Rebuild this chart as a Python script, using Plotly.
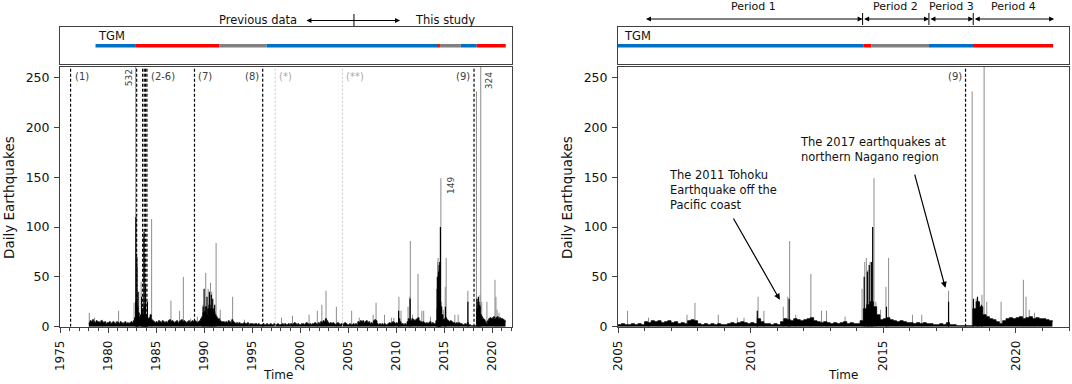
import plotly.graph_objects as go

# ---------------- data ----------------
# background daily activity (typical daily count), one value every 1.5 months from 1978.0
bg_start = 1978.0
bg_step = 0.125
bg_counts = [
    4, 6, 5, 7, 5, 4, 6, 5,        # 1978
    5, 4, 6, 5, 4, 5, 3, 4,        # 1979
    4, 5, 3, 4, 5, 4, 3, 5,        # 1980
    4, 3, 5, 4, 3, 4, 5, 3,        # 1981
    4, 3, 4, 5, 4, 6, 9, 25,       # 1982
    20, 14, 10, 12, 18, 12, 20, 12,  # 1983
    10, 8, 9, 12, 7, 6, 5, 4,      # 1984
    5, 4, 6, 5, 4, 6, 5, 4,        # 1985
    5, 4, 6, 7, 5, 6, 5, 4,        # 1986
    5, 6, 4, 5, 6, 7, 5, 6,        # 1987
    5, 4, 5, 6, 4, 5, 6, 5,        # 1988
    6, 5, 4, 5, 6, 8, 10, 14,      # 1989
    15, 20, 12, 18, 22, 18, 14, 18,  # 1990
    15, 12, 10, 8, 8, 6, 5, 5,     # 1991
    5, 4, 5, 4, 6, 5, 4, 7,        # 1992
    5, 4, 3, 4, 3, 4, 3, 3,        # 1993
    3, 4, 3, 3, 4, 2, 3, 3,        # 1994
    3, 2, 3, 3, 2, 3, 2, 2,        # 1995
    2, 3, 2, 2, 3, 2, 2, 3,        # 1996
    2, 2, 3, 2, 2, 3, 2, 2,        # 1997
    2, 3, 2, 3, 2, 2, 3, 2,        # 1998
    3, 2, 3, 4, 3, 2, 3, 2,        # 1999
    2, 3, 3, 2, 3, 4, 3, 2,        # 2000
    3, 2, 3, 3, 4, 3, 2, 4,        # 2001
    3, 5, 4, 6, 5, 8, 6, 4,        # 2002
    3, 4, 3, 4, 3, 2, 3, 4,        # 2003
    3, 2, 3, 2, 3, 4, 3, 2,        # 2004
    2, 3, 2, 2, 3, 2, 3, 2,        # 2005
    5, 4, 6, 5, 6, 4, 5, 6,        # 2006
    4, 5, 3, 4, 3, 6, 7, 6,        # 2007
    3, 2, 3, 2, 3, 2, 3, 2,        # 2008
    2, 3, 4, 3, 4, 5, 4, 3,        # 2009
    4, 3, 8, 5, 3, 3, 2, 3,        # 2010
    2, 5, 8, 7, 6, 8, 7, 6,        # 2011
    7, 8, 9, 6, 5, 4, 5, 4,        # 2012
    3, 4, 3, 4, 5, 3, 4, 3,        # 2013
    3, 6, 18, 22, 25, 20, 12, 7,   # 2014
    8, 9, 7, 6, 5, 6, 5, 4,        # 2015
    4, 3, 4, 3, 4, 3, 3, 2,        # 2016
    2, 3, 2, 4, 2, 2, 1, 1,        # 2017
    1, 1, 1, 18, 25, 20, 12, 10,   # 2018
    8, 7, 5, 3, 6, 8, 9, 8,        # 2019
    9, 10, 8, 9, 10, 8, 9, 8,      # 2020
    8, 7, 6, 5,                    # 2021
]

# isolated high days (grey spikes)
spike_years = [1978.05, 1978.6, 1979.4, 1981.1, 1982.71, 1982.88, 1983.05, 1983.2, 1983.45,
               1983.7, 1983.85, 1984.54, 1986.55, 1987.45, 1987.84, 1988.6, 1989.3, 1989.89,
               1990.17, 1990.42, 1990.67, 1990.8, 1991.25, 1991.68, 1992.97, 1994.2, 1998.06,
               1999.2, 2000.93, 2001.79, 2002.26, 2002.69, 2003.77, 2005.36, 2006.15, 2007.6,
               2007.9, 2008.78, 2009.5, 2009.75, 2010.28, 2010.5, 2011.23, 2011.4, 2011.47,
               2011.7, 2012.27, 2012.67, 2012.86, 2013.56, 2014.2, 2014.3, 2014.36, 2014.42,
               2014.5, 2014.65, 2014.72, 2014.9, 2015.1, 2015.2, 2016.1, 2016.45, 2017.46,
               2018.35, 2018.5, 2018.6, 2018.72, 2018.8, 2018.9, 2019.44, 2020.28, 2020.38,
               2020.5, 2020.7]
spike_counts = [14, 9, 7, 16, 24, 532, 60, 35, 45,
                90, 70, 108, 26, 16, 50, 8, 10, 22,
                54, 38, 44, 35, 84, 17, 30, 7, 9,
                11, 12, 16, 22, 36, 20, 16, 9, 12,
                24, 12, 9, 9, 30, 16, 20, 30, 86,
                12, 53, 16, 16, 10, 38, 65, 69, 57,
                65, 149, 25, 17, 40, 69, 12, 12, 36,
                236, 28, 26, 32, 324, 25, 25, 47, 30,
                17, 14]

# dense high days (black spikes)
black_years = [1982.9, 1983.0, 1983.12, 1983.5, 1983.75, 1983.9, 1984.1, 1989.9, 1990.0,
               1990.3, 1990.55, 1990.75, 1990.9, 1991.1, 2010.25, 2011.45, 2014.28, 2014.4,
               2014.47, 2014.55, 2014.6, 2015.12, 2017.46, 2018.4, 2018.55, 2018.7]
black_counts = [110, 70, 35, 30, 95, 40, 25, 20, 38,
                30, 35, 32, 28, 22, 16, 28, 50, 55,
                62, 65, 100, 20, 25, 28, 30, 22]

event_years = [1976.1, 1982.98, 1983.6, 1983.77, 1983.91, 1984.05, 1989.0, 1996.1, 2018.1]
faint_event_years = [1997.4, 2004.4]

tgm_starts = [1978.7, 1982.9, 1991.6, 1996.5, 2014.25, 2014.55, 2016.72, 2018.38]
tgm_ends = [1982.9, 1991.6, 1996.5, 2014.25, 2014.55, 2016.72, 2018.38, 2021.4]
tgm_states = ["blue", "red", "gray", "blue", "red", "gray", "blue", "red"]

period_bounds = [2006.0, 2014.22, 2016.72, 2018.39, 2021.44]
period_labels = ["Period 1", "Period 2", "Period 3", "Period 4"]

# ---------------- styling ----------------
W, H = 1072, 384
FONT = "DejaVu Sans"
FRAME = "#404040"
STATE_COLORS = {"blue": "#0070C0", "red": "#FF0000", "gray": "#808080"}


def pxx(p):
    return p / W


def pxy(p):
    return 1 - p / H


LEFT_DOM = [pxx(60), pxx(511.5)]
RIGHT_DOM = [pxx(618), pxx(1069)]
PLOT_Y = [pxy(326.7), pxy(66.5)]
TOP_Y = [pxy(64.3), pxy(27.3)]
YMAX = 261

fig = go.Figure()

bg_x = [bg_start + i * bg_step for i in range(len(bg_counts))]

for xa, ya in [("x", "y"), ("x2", "y2")]:
    sx, sy = [], []
    for yr, c in zip(spike_years, spike_counts):
        sx += [yr, yr, None]
        sy += [0, c, None]
    fig.add_trace(go.Scatter(x=sx, y=sy, mode="lines", line=dict(color="#8c8c8c", width=1),
                             xaxis=xa, yaxis=ya, hoverinfo="skip"))
    fig.add_trace(go.Scatter(x=bg_x, y=bg_counts, mode="lines", fill="tozeroy",
                             fillcolor="black", line=dict(color="black", width=0.8, shape="hv"),
                             xaxis=xa, yaxis=ya, hoverinfo="skip"))
    bx, by = [], []
    for yr, c in zip(black_years, black_counts):
        bx += [yr, yr, None]
        by += [0, c, None]
    fig.add_trace(go.Scatter(x=bx, y=by, mode="lines", line=dict(color="black", width=1.2),
                             xaxis=xa, yaxis=ya, hoverinfo="skip"))

# TGM state bars
for xa, ya in [("x3", "y3"), ("x4", "y4")]:
    for s, e, st in zip(tgm_starts, tgm_ends, tgm_states):
        fig.add_trace(go.Scatter(x=[s, e], y=[0.5, 0.5], mode="lines",
                                 line=dict(color=STATE_COLORS[st], width=3.5),
                                 xaxis=xa, yaxis=ya, hoverinfo="skip"))

shapes = []
for ev in event_years:
    for xa, ya, lo in [("x", "y", 1975), ("x2", "y2", 2005)]:
        if ev >= lo:
            shapes.append(dict(type="line", xref=xa, yref=ya, x0=ev, x1=ev, y0=0, y1=YMAX,
                               line=dict(color="black", width=1.2, dash="3px,2px")))
for ev in faint_event_years:
    shapes.append(dict(type="line", xref="x", yref="y", x0=ev, x1=ev, y0=0, y1=YMAX,
                       line=dict(color="#c8c8c8", width=1, dash="2px,2px")))

annotations = []
# event labels (left)
lab_font = dict(family=FONT, size=10, color="#404040")
faint_font = dict(family=FONT, size=10, color="#aaaaaa")
for txt, xv, anchor, sh in [("(1)", 1976.1, "left", 2), ("(2-6)", 1984.05, "left", 2),
                            ("(7)", 1989.0, "left", 2), ("(8)", 1996.1, "right", -2),
                            ("(9)", 2018.1, "right", -2)]:
    annotations.append(dict(text=txt, x=xv, y=251, xref="x", yref="y", showarrow=False,
                            xanchor=anchor, yanchor="middle", xshift=sh, font=lab_font))
for txt, xv in [("(*)", 1997.4), ("(**)", 2004.4)]:
    annotations.append(dict(text=txt, x=xv, y=251, xref="x", yref="y", showarrow=False,
                            xanchor="left", yanchor="middle", xshift=2, font=faint_font))
annotations.append(dict(text="(9)", x=2018.1, y=251, xref="x2", yref="y2", showarrow=False,
                        xanchor="right", yanchor="middle", xshift=-2, font=lab_font))
# off-scale value labels
val_font = dict(family=FONT, size=9, color="#404040")
annotations.append(dict(text="532", x=1982.88, y=250, xref="x", yref="y", showarrow=False,
                        textangle=-90, xshift=-6, xanchor="center", yanchor="middle",
                        font=val_font))
annotations.append(dict(text="324", x=2018.8, y=247, xref="x", yref="y", showarrow=False,
                        textangle=-90, xshift=9, xanchor="center", yanchor="middle",
                        font=val_font))
annotations.append(dict(text="149", x=2014.65, y=142, xref="x", yref="y", showarrow=False,
                        textangle=-90, xshift=10, xanchor="center", yanchor="middle",
                        font=val_font))

# axis titles
tfont = dict(family=FONT, size=13.5, color="#111")
for xp in [9, 567]:
    annotations.append(dict(text="Daily Earthquakes", x=pxx(xp), y=pxy(198), xref="paper",
                            yref="paper", showarrow=False, textangle=-90,
                            xanchor="center", yanchor="middle", font=tfont))
for xp in [278, 843]:
    annotations.append(dict(text="Time", x=pxx(xp), y=pxy(375), xref="paper", yref="paper",
                            showarrow=False, xanchor="center", yanchor="middle",
                            font=dict(family=FONT, size=12, color="#111")))

# TGM labels
tgm_font = dict(family=FONT, size=11.5, color="#111")
annotations.append(dict(text="TGM", x=1978.7, y=0.76, xref="x3", yref="y3", showarrow=False,
                        xanchor="left", yanchor="middle", font=tgm_font))
annotations.append(dict(text="TGM", x=2005, y=0.76, xref="x4", yref="y4", showarrow=False,
                        xanchor="left", yanchor="middle", xshift=4, font=tgm_font))

# header: previous data / this study
hdr_font = dict(family=FONT, size=11.5, color="#111")
hdr_y = pxy(20.5)
annotations.append(dict(text="", x=2010.4, y=hdr_y, ax=2000.5, ay=0, xref="x3", yref="paper",
                        axref="x3", ayref="pixel", showarrow=True, arrowhead=2,
                        arrowside="end+start", arrowsize=1, arrowwidth=1, arrowcolor="black"))
shapes.append(dict(type="line", xref="x3", yref="paper", x0=2005.6, x1=2005.6,
                   y0=pxy(26), y1=pxy(14), line=dict(color="black", width=1)))
annotations.append(dict(text="Previous data", x=1999.9, y=hdr_y, xref="x3", yref="paper",
                        showarrow=False, xanchor="right", yanchor="middle", font=hdr_font))
annotations.append(dict(text="This study", x=2011.7, y=hdr_y, xref="x3", yref="paper",
                        showarrow=False, xanchor="left", yanchor="middle", font=hdr_font))

# header: periods
per_font = dict(family=FONT, size=11, color="#111")
arr_y = pxy(19)
for i in range(4):
    a, b = period_bounds[i], period_bounds[i + 1]
    annotations.append(dict(text="", x=b, y=arr_y, ax=a, ay=0, xref="x4", yref="paper",
                            axref="x4", ayref="pixel", showarrow=True, arrowhead=2,
                            arrowside="end+start", arrowsize=1, arrowwidth=1,
                            arrowcolor="black"))
    annotations.append(dict(text=period_labels[i], x=(a + b) / 2, y=pxy(6.5), xref="x4",
                            yref="paper", showarrow=False, xanchor="center",
                            yanchor="middle", font=per_font))
for b in period_bounds[1:4]:
    shapes.append(dict(type="line", xref="x4", yref="paper", x0=b, x1=b,
                       y0=pxy(25), y1=pxy(13), line=dict(color="black", width=1)))

# right-panel callouts
call_font = dict(family=FONT, size=11.5, color="#111")
annotations.append(dict(text="The 2011 Tohoku<br>Earthquake off the<br>Pacific coast",
                        x=2006.85, y=137, xref="x2", yref="y2", showarrow=False,
                        xanchor="left", yanchor="middle", align="left", font=call_font))
annotations.append(dict(text="", x=2011.1, y=27, ax=2009.32, ay=110, xref="x2", yref="y2",
                        axref="x2", ayref="y2", showarrow=True, arrowhead=2, arrowsize=1,
                        arrowwidth=1.2, arrowcolor="black"))
annotations.append(dict(text="The 2017 earthquakes at<br>northern Nagano region",
                        x=2011.78, y=177.5, xref="x2", yref="y2", showarrow=False,
                        xanchor="left", yanchor="middle", align="left", font=call_font))
annotations.append(dict(text="", x=2017.34, y=39, ax=2016.17, ay=154, xref="x2", yref="y2",
                        axref="x2", ayref="y2", showarrow=True, arrowhead=2, arrowsize=1,
                        arrowwidth=1.2, arrowcolor="black"))

tick_font = dict(family=FONT, size=12, color="#111")
common_x = dict(showline=True, mirror=True, linecolor=FRAME, linewidth=1, showgrid=False,
                zeroline=False, ticks="outside", ticklen=5, tickcolor=FRAME, tickangle=-90,
                tickfont=tick_font, automargin=False, ticklabelstandoff=3,
                minor=dict(dtick=1, ticks="outside", ticklen=3, tickcolor=FRAME))
common_y = dict(showline=True, mirror=True, linecolor=FRAME, linewidth=1, showgrid=False,
                zeroline=False, ticks="outside", ticklen=5, tickcolor=FRAME, automargin=False,
                ticklabelstandoff=2,
                tickvals=[0, 50, 100, 150, 200, 250],
                tickfont=dict(family=FONT, size=12.5, color="#111"), range=[0, YMAX])
top_common = dict(showline=True, mirror=True, linecolor=FRAME, linewidth=1, showgrid=False,
                  zeroline=False, ticks="", showticklabels=False, automargin=False)

fig.update_layout(
    template="none",
    width=W, height=H, margin=dict(l=0, r=0, t=0, b=0, pad=0),
    paper_bgcolor="white", plot_bgcolor="white", showlegend=False,
    font=dict(family=FONT, color="#111"),
    xaxis=dict(domain=LEFT_DOM, range=[1975, 2022], anchor="y",
               tickvals=list(range(1975, 2021, 5)), **common_x),
    yaxis=dict(domain=PLOT_Y, anchor="x", **common_y),
    xaxis2=dict(domain=RIGHT_DOM, range=[2005, 2022], anchor="y2",
                tickvals=list(range(2005, 2021, 5)), **common_x),
    yaxis2=dict(domain=PLOT_Y, anchor="x2", **common_y),
    xaxis3=dict(domain=LEFT_DOM, range=[1975, 2022], anchor="y3", **top_common),
    yaxis3=dict(domain=TOP_Y, range=[0, 1], anchor="x3", **top_common),
    xaxis4=dict(domain=RIGHT_DOM, range=[2005, 2022], anchor="y4", **top_common),
    yaxis4=dict(domain=TOP_Y, range=[0, 1], anchor="x4", **top_common),
    shapes=shapes, annotations=annotations,
)

fig.write_html("out.html", config={"displayModeBar": False, "staticPlot": True},
               post_script="document.body.style.margin='0px';document.body.style.overflow='hidden';")
